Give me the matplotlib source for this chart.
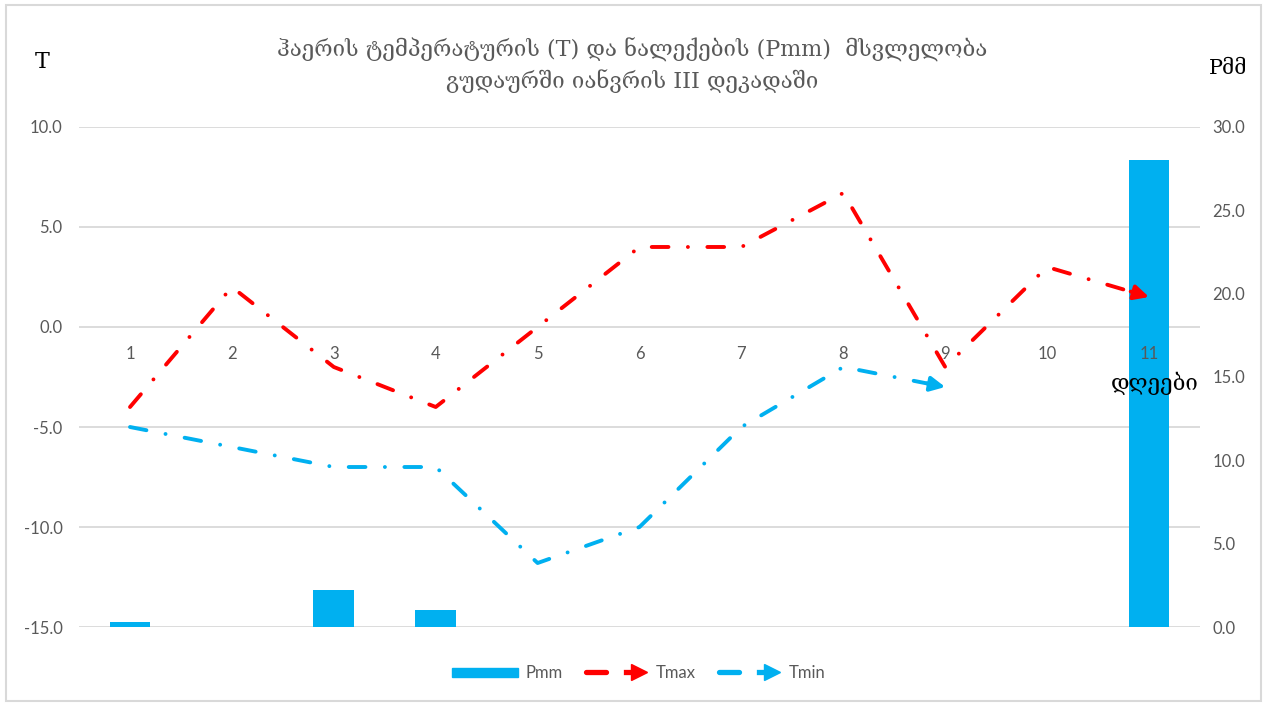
import numpy as np
import matplotlib.pyplot as plt
from matplotlib.lines import Line2D
from matplotlib.patches import Rectangle
from matplotlib.legend_handler import HandlerBase

# данные
days = [1, 2, 3, 4, 5, 6, 7, 8, 9, 10, 11]
t_max = [-4.0, 2.0, -2.0, -4.0, 0.0, 4.0, 4.0, 6.7, -2.0, 3.0, 1.5]
t_min = [-5.0, -6.0, -7.0, -7.0, -11.8, -10.0, -5.0, -2.0, -3.0]
p_mm = [0.3, 0.0, 2.2, 1.0, 0.0, 0.0, 0.0, 0.0, 0.0, 0.0, 28.0]

title = "ჰაერის ტემპერატურის (T) და ნალექების (Pmm)  მსვლელობა\nგუდაურში იანვრის III დეკადაში"
t_ticks = [-15, -10, -5, 0, 5, 10]
p_ticks = [0, 5, 10, 15, 20, 25, 30]

RED = "#FF0000"
BLUE = "#00B0F0"
GRAY = "#595959"
GRID = "#D9D9D9"
GEO = ["DejaVu Serif", "DejaVu Sans"]
LW = 2.8
DASH = (4.3, 5.0, 0.01, 5.0)

fig = plt.figure(figsize=(12.65, 7.05), dpi=100)
ax2 = fig.add_axes([0.0625, 0.1106, 0.8861, 0.7093])
ax = ax2.twinx()
ax.xaxis.set_visible(True)
ax.yaxis.tick_left()
ax.yaxis.set_label_position("left")
ax2.yaxis.tick_right()
ax.set_zorder(ax2.get_zorder() + 1)
ax.patch.set_visible(False)

t_lo, t_hi = t_ticks[0], t_ticks[-1]
p_lo, p_hi = p_ticks[0], p_ticks[-1]

# осадки (правая ось)
ax2.set_ylim(p_lo, p_hi)
# сетка по левой шкале, но под столбиками
for t in t_ticks:
    ax2.axhline(p_lo + (t - t_lo) * (p_hi - p_lo) / (t_hi - t_lo),
                color=GRID, lw=1.3, zorder=0)
ax2.bar(days, p_mm, width=0.4, color=BLUE, zorder=2)
ax2.set_yticks(p_ticks)
ax2.set_yticklabels([f"{v:.1f}" for v in p_ticks])

ax.set_ylim(t_lo, t_hi)
ax.set_yticks(t_ticks)
ax.set_yticklabels([f"{v:.1f}" for v in t_ticks])
ax.set_xlim(0.5, 11.5)


def arrow_line(x, y, color):
    x = np.asarray(x, float)
    y = np.asarray(y, float)
    ax.plot(x, y, color=color, lw=LW, dashes=DASH, dash_capstyle="round",
            solid_capstyle="round", zorder=3)
    xs = x[-1] - 0.18 * (x[-1] - x[-2])
    ys = y[-1] - 0.18 * (y[-1] - y[-2])
    ax.annotate("", xy=(x[-1], y[-1]), xytext=(xs, ys),
                arrowprops=dict(arrowstyle="-|>", color=color, lw=LW,
                                mutation_scale=22, shrinkA=0, shrinkB=0),
                zorder=4)


arrow_line(days, t_max, RED)
arrow_line(days[:len(t_min)], t_min, BLUE)

# ось категорий на уровне 0
ax.set_xticks(days)
ax.set_xticklabels([str(d) for d in days])
ax.spines["bottom"].set_position(("data", 0))
ax2.tick_params(axis="x", length=0, labelbottom=False)
for a in (ax, ax2):
    for s in a.spines.values():
        s.set_visible(False)
ax.tick_params(axis="x", length=0, pad=14, labelsize=12, labelcolor=GRAY,
               labelbottom=True)
ax.tick_params(axis="y", length=0, pad=12, labelsize=12, labelcolor=GRAY)
ax2.tick_params(axis="y", length=0, pad=9, labelsize=12, labelcolor=GRAY)
for lab in ax.get_xticklabels() + ax.get_yticklabels() + ax2.get_yticklabels():
    lab.set_family("Lato")

ax.text(11.06, -2.8, "დღეები", family=GEO, fontsize=16, color="black",
        ha="center", va="center")

fig.text(0.033, 0.912, "T", family=GEO, fontsize=16, color="black",
         ha="center", va="center")
fig.text(0.971, 0.903, "Pმმ", family=GEO, fontsize=15, color="black",
         ha="center", va="center")
fig.text(0.5, 0.907, title, family=GEO, fontsize=16, color=GRAY,
         ha="center", va="center", linespacing=1.4)


class ArrowHandler(HandlerBase):
    def create_artists(self, legend, orig, xd, yd, w, h, fs, trans):
        c = orig.get_color()
        y = h / 2 - yd
        seg = Line2D([-xd + 0.05 * w, -xd + 0.35 * w], [y, y], color=c,
                     lw=LW + 1, solid_capstyle="round", transform=trans)
        head = Line2D([-xd + 0.85 * w], [y], marker=">", markersize=11,
                      color=c, lw=0, transform=trans)
        tail = Line2D([-xd + 0.65 * w, -xd + 0.8 * w], [y, y], color=c,
                      lw=LW + 1, transform=trans)
        return [seg, tail, head]


handles = [Rectangle((0, 0), 1, 1, color=BLUE),
           Line2D([], [], color=RED), Line2D([], [], color=BLUE)]
leg = fig.legend(handles, ["Pmm", "Tmax", "Tmin"], loc="center",
                 bbox_to_anchor=(0.505, 0.045), ncol=3, frameon=False,
                 handler_map={Line2D: ArrowHandler()}, handlelength=4.0,
                 handleheight=0.5, columnspacing=1.2, handletextpad=0.4,
                 prop={"family": "Lato", "size": 12})
for t in leg.get_texts():
    t.set_color(GRAY)

fig.patches.append(Rectangle((0.005, 0.006), 0.992, 0.987, transform=fig.transFigure,
                             fill=False, edgecolor=GRID, lw=1.5))

fig.savefig("out.png", dpi=100)
